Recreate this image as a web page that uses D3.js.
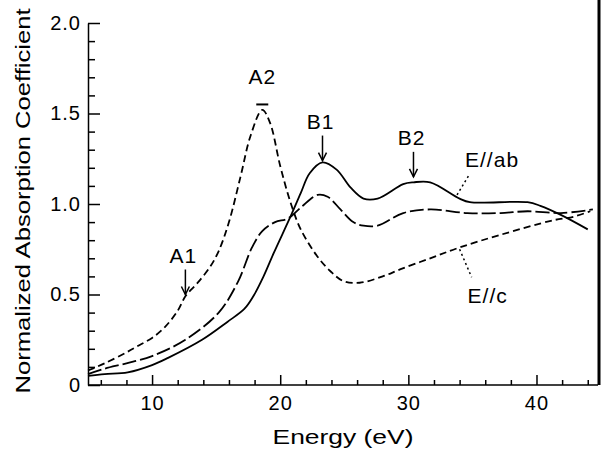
<!DOCTYPE html>
<html><head><meta charset="utf-8">
<script src="https://cdn.jsdelivr.net/npm/d3@7"></script>
<style>
html,body{margin:0;padding:0;background:#fff;}
svg{display:block;font-family:"Liberation Sans",Arial,sans-serif;}
</style></head>
<body><svg id="c" width="602" height="452"></svg>
<script>
// ---- data ----
const energyC  = [5, 6.3, 8, 9, 10, 11, 12, 12.6, 13.5, 14.5, 15.2, 16, 16.9, 17.7, 18.6, 19.2, 20, 20.8, 21.6, 22.9, 23.9, 24.9, 26.2, 28, 29.4, 31.7, 34, 37.2, 41.3, 42.9, 44.2];
const valuesC  = [0.08, 0.12, 0.18, 0.22, 0.26, 0.32, 0.41, 0.49, 0.56, 0.65, 0.74, 0.90, 1.15, 1.38, 1.52, 1.45, 1.21, 1.01, 0.86, 0.71, 0.63, 0.575, 0.565, 0.60, 0.64, 0.70, 0.76, 0.83, 0.91, 0.93, 0.96];

const energyM  = [5, 6.3, 8, 10, 12.6, 15.2, 16.7, 17.8, 18.6, 19.6, 20.6, 21.6, 22.9, 23.7, 24.7, 25.7, 26.5, 27.6, 29.6, 31.7, 34.6, 37.2, 39.3, 41.9, 44.4];
const valuesM  = [0.06, 0.09, 0.12, 0.16, 0.25, 0.40, 0.57, 0.76, 0.85, 0.90, 0.92, 0.98, 1.05, 1.04, 0.97, 0.90, 0.88, 0.88, 0.95, 0.97, 0.95, 0.95, 0.96, 0.95, 0.97];

const energyAB = [5, 6.3, 8.1, 10, 11.25, 13.9, 15.9, 17.2, 17.9, 18.7, 19.5, 20.8, 21.6, 22.3, 23.3, 24.4, 25.5, 26.5, 27.6, 29.6, 30.4, 31.7, 34, 34.8, 39.3, 40.3, 41.9, 44];
const valuesAB = [0.05, 0.06, 0.07, 0.11, 0.15, 0.25, 0.35, 0.42, 0.49, 0.60, 0.73, 0.93, 1.06, 1.17, 1.23, 1.19, 1.09, 1.03, 1.03, 1.11, 1.12, 1.12, 1.03, 1.01, 1.01, 0.99, 0.94, 0.86];

const yMajorTicks = [0, 0.5, 1.0, 1.5, 2.0];
const yTickLabels = ["0", "0.5", "1.0", "1.5", "2.0"];
const xMajorTicks = [10, 20, 30, 40];
const xTickLabels = ["10", "20", "30", "40"];

// peak annotations: label, energy, value at arrow tip, has arrow
const peakLabels   = ["A1", "A2", "B1", "B2"];
const peakEnergies = [12.6, 18.6, 23.3, 30.4];
const peakValues   = [0.50, 1.55, 1.24, 1.15];
const peakArrows   = [true, false, true, true];

// curve labels: text, energy / value of the point on the curve
const curveLabels   = ["E//ab", "E//c"];
const curveEnergies = [33.8, 34.0];
const curveValues   = [1.05, 0.75];

// ---- layout ----
const svg = d3.select("#c");
const x = d3.scaleLinear().domain([5, 44.8]).range([88, 598]);
const y = d3.scaleLinear().domain([0, 2]).range([385, 23]);

// frame: right vertical line
svg.append("line").attr("x1", 599).attr("x2", 599).attr("y1", 0).attr("y2", y(0))
  .attr("stroke", "#000").attr("stroke-width", 3);

// y axis
const yMinor = d3.range(0, 2.001, 0.1).filter(v => Math.abs(v*2 - Math.round(v*2)) > 1e-6);
const yAx = svg.append("g").attr("transform", `translate(${x(5)},0)`);
yAx.call(d3.axisLeft(y).tickValues(yMajorTicks).tickSizeInner(-12).tickSizeOuter(0).tickPadding(7)
  .tickFormat((d,i) => yTickLabels[i]));
yAx.append("g").call(d3.axisLeft(y).tickValues(yMinor).tickSizeInner(-7).tickSizeOuter(0).tickFormat(""))
  .select(".domain").remove();
yAx.selectAll("text").attr("font-size", 20).attr("letter-spacing", 1).attr("fill", "#000")
  .attr("font-family", "Liberation Sans, Arial, sans-serif");
yAx.selectAll("line,path").attr("stroke", "#000").attr("stroke-width", 1.5);

// x axis
const xMinor = d3.range(6, 44.1, 2).filter(v => v % 10 !== 0);
const xAx = svg.append("g").attr("transform", `translate(0,${y(0)})`);
xAx.call(d3.axisBottom(x).tickValues(xMajorTicks).tickSizeInner(-10).tickSizeOuter(0).tickPadding(11)
  .tickFormat((d,i) => xTickLabels[i]));
xAx.append("g").call(d3.axisBottom(x).tickValues(xMinor).tickSizeInner(-5).tickSizeOuter(0).tickFormat(""))
  .select(".domain").remove();
xAx.selectAll("text").attr("font-size", 20).attr("letter-spacing", 1).attr("fill", "#000")
  .attr("font-family", "Liberation Sans, Arial, sans-serif");
xAx.selectAll("line,path").attr("stroke", "#000").attr("stroke-width", 1.5);
xAx.select(".domain").attr("d", `M${x(5)},0H${x(44.8)}`);

// axis titles
svg.append("text").attr("x", 343).attr("y", 444).attr("text-anchor", "middle")
  .attr("font-size", 20).attr("textLength", 141).attr("lengthAdjust", "spacingAndGlyphs")
  .text("Energy  (eV)");
svg.append("text").attr("transform", "translate(30,201) rotate(-90)").attr("text-anchor", "middle")
  .attr("font-size", 21).attr("textLength", 385).attr("lengthAdjust", "spacingAndGlyphs")
  .text("Normalized  Absorption  Coefficient");

// curves
const line = d3.line().x(d => x(d[0])).y(d => y(d[1])).curve(d3.curveCatmullRom.alpha(0.5));
const series = [
  {e: energyC, v: valuesC, dash: "7,4"},
  {e: energyM, v: valuesM, dash: "14,4"},
  {e: energyAB, v: valuesAB, dash: null}
];
series.forEach(s => {
  svg.append("path").datum(s.e.map((e,i) => [e, s.v[i]]))
    .attr("d", line).attr("fill", "none").attr("stroke", "#000").attr("stroke-width", 1.8)
    .attr("stroke-dasharray", s.dash);
});

// peak annotations
peakLabels.forEach((lab, i) => {
  const px = x(peakEnergies[i]), py = y(peakValues[i]);
  const g = svg.append("g");
  if (peakArrows[i]) {
    g.append("line").attr("x1", px).attr("x2", px).attr("y1", py - 25).attr("y2", py)
      .attr("stroke", "#000").attr("stroke-width", 1.5);
    g.append("path").attr("d", `M${px-4},${py-8}L${px},${py}L${px+4},${py-8}`)
      .attr("fill", "none").attr("stroke", "#000").attr("stroke-width", 1.5);
    g.append("text").attr("x", px - 2).attr("y", py - 32).attr("text-anchor", "middle")
      .attr("font-size", 21).attr("letter-spacing", 1).text(lab);
  } else {
    g.append("line").attr("x1", px - 6).attr("x2", px + 6).attr("y1", py).attr("y2", py)
      .attr("stroke", "#000").attr("stroke-width", 2);
    g.append("text").attr("x", px).attr("y", py - 20).attr("text-anchor", "middle")
      .attr("font-size", 21).attr("letter-spacing", 1).text(lab);
  }
});

// curve labels with dotted leaders
curveLabels.forEach((lab, i) => {
  const px = x(curveEnergies[i]), py = y(curveValues[i]);
  const up = i === 0;
  const ex = px + 12, ey = up ? py - 20 : py + 28;
  svg.append("line").attr("x1", px).attr("y1", py).attr("x2", ex).attr("y2", ey)
    .attr("stroke", "#000").attr("stroke-width", 1.5).attr("stroke-dasharray", "2,3");
  svg.append("text").attr("x", ex - 4).attr("y", up ? ey - 8 : ey + 26)
    .attr("font-size", 21).attr("letter-spacing", 1).text(lab);
});
</script></body></html>
